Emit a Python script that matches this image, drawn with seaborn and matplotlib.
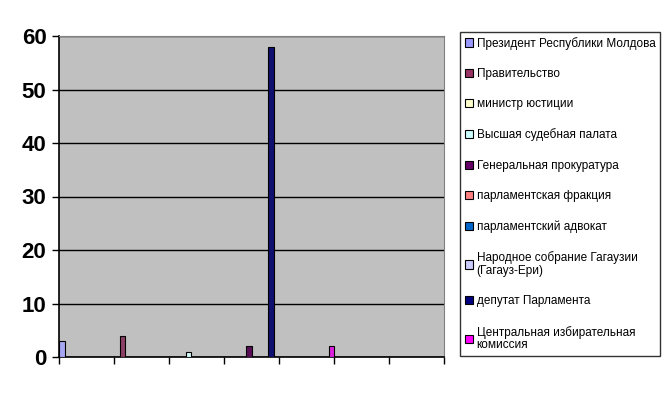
import numpy as np
import pandas as pd
from matplotlib import pyplot as plt
import seaborn as sns

# categories on the x axis (no labels shown in the chart)
categories = ["1", "2", "3", "4", "5", "6", "7"]

series_names = [
    "Президент Республики Молдова",
    "Правительство",
    "министр юстиции",
    "Высшая судебная палата",
    "Генеральная прокуратура",
    "парламентская фракция",
    "парламентский адвокат",
    "Народное собрание Гагаузии\n(Гагауз-Ери)",
    "депутат Парламента",
    "Центральная избирательная\nкомиссия",
]

# one row per series, one value per category
values = [
    [3, 0, 0, 0, 0, 0, 0],
    [0, 4, 0, 0, 0, 0, 0],
    [0, 0, 0, 0, 0, 0, 0],
    [0, 0, 1, 0, 0, 0, 0],
    [0, 0, 0, 2, 0, 0, 0],
    [0, 0, 0, 0, 0, 0, 0],
    [0, 0, 0, 0, 0, 0, 0],
    [0, 0, 0, 0, 0, 0, 0],
    [0, 0, 0, 58, 0, 0, 0],
    [0, 0, 0, 0, 2, 0, 0],
]

colors = ["#9999FF", "#993366", "#FFFFCC", "#CCFFFF", "#660066",
          "#FF8080", "#0066CC", "#CCCCFF", "#000080", "#FF00FF"]

y_ticks = [0, 10, 20, 30, 40, 50, 60]

rows = []
for name, vals in zip(series_names, values):
    for cat, v in zip(categories, vals):
        rows.append({"cat": cat, "series": name, "value": v})
df = pd.DataFrame(rows)

plt.rcParams['font.family'] = ['Liberation Sans', 'DejaVu Sans']

fig = plt.figure(figsize=(6.72, 3.94), dpi=100)
ax = fig.add_axes([59 / 672, 37 / 394, 385 / 672, 321 / 394])
ax.set_facecolor("#C0C0C0")

sns.barplot(data=df, x="cat", y="value", hue="series", palette=colors,
            width=1.0, edgecolor="black", linewidth=0.8, ax=ax, legend=False,
            zorder=3)

ax.set_ylim(0, 60)
ax.set_yticks(y_ticks)
ax.set_yticklabels([str(t) for t in y_ticks], fontsize=16, fontweight="bold")
ax.yaxis.grid(True, color="black", linewidth=1, zorder=1)
ax.set_axisbelow(True)

n = len(categories)
ax.set_xlim(-0.5, n - 0.5)
ax.set_xticks(np.arange(n + 1) - 0.5)
ax.set_xticklabels([])
ax.tick_params(axis="x", length=5, width=1, color="black")
ax.tick_params(axis="y", length=5, width=1, color="black", pad=4)
ax.set_xlabel("")
ax.set_ylabel("")

for side in ["top", "right"]:
    ax.spines[side].set_color("#808080")
for side in ["left", "bottom"]:
    ax.spines[side].set_color("black")
    ax.spines[side].set_linewidth(1.2)

handles = [plt.Rectangle((0, 0), 1, 1, facecolor=c, edgecolor="black", linewidth=0.8)
           for c in colors]
leg = fig.legend(handles, series_names, loc="upper left",
                 bbox_to_anchor=(460 / 672, 34 / 394, 200 / 672, 328 / 394),
                 mode="expand", fontsize=8.5, frameon=True, fancybox=False,
                 edgecolor="black", handlelength=0.7, handleheight=0.7,
                 handletextpad=0.3, labelspacing=1.55, borderpad=0.4,
                 borderaxespad=0)
leg.get_frame().set_linewidth(1)
for t in leg.get_texts():
    t.set_linespacing(1.1)

fig.savefig("out.png", dpi=100)
